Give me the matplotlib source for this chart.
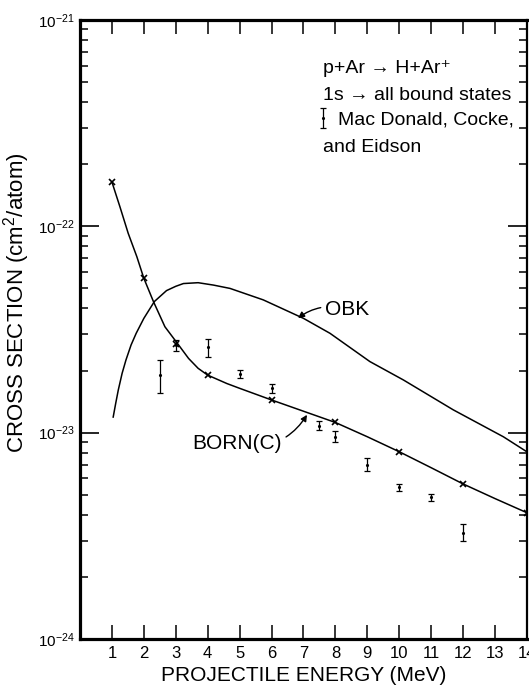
import numpy as np
import matplotlib
matplotlib.use("Agg")
import matplotlib.pyplot as plt
from matplotlib.ticker import LogLocator, NullFormatter

plt.rcParams['font.family'] = ['Liberation Sans', 'DejaVu Sans']
plt.rcParams['mathtext.fontset'] = 'custom'
plt.rcParams['mathtext.rm'] = 'Liberation Sans'
plt.rcParams['mathtext.it'] = 'Liberation Sans:italic'
plt.rcParams['mathtext.bf'] = 'Liberation Sans:bold'

# BORN(C) calculation: marked points and the drawn curve
born_energy = [1, 2, 3, 4, 6, 8, 10, 12, 14]
born_sigma = [1.64e-22, 5.6e-23, 2.69e-23, 1.90e-23, 1.44e-23, 1.12e-23,
              8.08e-24, 5.64e-24, 4.09e-24]

born_curve_energy = [1, 1.25, 1.51, 1.78, 2, 2.3, 2.66, 3.05, 3.4, 3.7, 4,
                     4.6, 5, 6, 7, 8, 9, 10, 11, 12, 13, 14]
born_curve_sigma = [1.64e-22, 1.245e-22, 9.25e-23, 7.13e-23, 5.60e-23,
                    4.32e-23, 3.26e-23, 2.71e-23, 2.29e-23, 2.05e-23,
                    1.90e-23, 1.73e-23, 1.64e-23, 1.44e-23, 1.27e-23,
                    1.12e-23, 9.55e-24, 8.08e-24, 6.76e-24, 5.64e-24,
                    4.79e-24, 4.09e-24]

# OBK calculation
obk_energy = [1.04, 1.12, 1.20, 1.32, 1.44, 1.6, 1.76, 2.0, 2.33, 2.71, 3.0,
              3.24, 3.7, 4.18, 4.70, 5.74, 7.0, 7.83, 9.08, 10.13, 11.69,
              13.26, 14.0]
obk_sigma = [1.19e-23, 1.39e-23, 1.61e-23, 1.94e-23, 2.25e-23, 2.66e-23,
             3.03e-23, 3.58e-23, 4.32e-23, 4.88e-23, 5.12e-23, 5.28e-23,
             5.33e-23, 5.19e-23, 5.00e-23, 4.40e-23, 3.58e-23, 3.03e-23,
             2.21e-23, 1.80e-23, 1.29e-23, 9.55e-24, 8.07e-24]

# Mac Donald, Cocke, and Eidson measurements
exp_energy = [2.5, 3, 4, 5, 6, 7.5, 8, 9, 10, 11, 12]
exp_sigma = [1.90e-23, 2.66e-23, 2.59e-23, 1.92e-23, 1.64e-23, 1.08e-23,
             9.55e-24, 6.97e-24, 5.43e-24, 4.85e-24, 3.27e-24]
exp_low = [1.55e-23, 2.49e-23, 2.32e-23, 1.85e-23, 1.55e-23, 1.03e-23,
           9.03e-24, 6.53e-24, 5.21e-24, 4.67e-24, 2.99e-24]
exp_high = [2.25e-23, 2.81e-23, 2.83e-23, 2.01e-23, 1.73e-23, 1.14e-23,
            1.02e-23, 7.55e-24, 5.61e-24, 5.04e-24, 3.59e-24]

x_ticks = list(range(1, 15))
y_ticks = [1e-24, 1e-23, 1e-22, 1e-21]
y_labels = [r'$10^{-24}$', r'$10^{-23}$', r'$10^{-22}$', r'$10^{-21}$']

fig = plt.figure(figsize=(5.29, 6.89), dpi=100)
ax = fig.add_axes([0.1512, 0.0726, 0.845, 0.8984])

ax.plot(born_curve_energy, born_curve_sigma, color='black', lw=1.1)
ax.plot(born_energy, born_sigma, 'x', color='black', ms=4, mew=1.2)
ax.plot(obk_energy, obk_sigma, color='black', lw=1.1)

err = [np.array(exp_sigma) - np.array(exp_low),
       np.array(exp_high) - np.array(exp_sigma)]
eb = ax.errorbar(exp_energy, exp_sigma, yerr=err, fmt='.', color='black',
                 ms=2.5, elinewidth=0.9, capsize=2.2, capthick=0.9)

ax.set_yscale('log')
ax.set_xlim(0, 14)
ax.set_ylim(1e-24, 1e-21)

ax.set_xticks(x_ticks)
ax.set_yticks(y_ticks, labels=y_labels)
ax.yaxis.set_minor_locator(LogLocator(base=10, subs=range(2, 10)))
ax.yaxis.set_minor_formatter(NullFormatter())

ax.tick_params(axis='x', which='major', direction='in', top=True, length=10,
               width=1.1, labelsize=12, pad=5)
ax.tick_params(axis='y', which='major', direction='in', right=True, length=14,
               width=1.2, labelsize=11, pad=4)
ax.tick_params(axis='y', which='minor', direction='in', right=True, length=6,
               width=1.1)
for side in ['left', 'bottom', 'top']:
    ax.spines[side].set_linewidth(2.3)
ax.spines['right'].set_linewidth(1.6)

ax.set_xlabel('PROJECTILE ENERGY (MeV)', fontsize=15, labelpad=4)
ax.set_ylabel(r'CROSS SECTION (cm$^2$/atom)', fontsize=16)
ax.yaxis.set_label_coords(-0.108, 0.543)

# header text
ax.text(0.544, 0.914, 'p+Ar → H+Ar⁺', transform=ax.transAxes,
        fontsize=14, va='baseline')
ax.text(0.544, 0.870, '1s → all bound states', transform=ax.transAxes,
        fontsize=14, va='baseline')
ax.text(0.544, 0.787, 'and Eidson', transform=ax.transAxes,
        fontsize=14, va='baseline')
leg = ax.legend([eb], ['Mac Donald, Cocke,'], loc='upper left',
                bbox_to_anchor=(0.53, 0.853), frameon=False, fontsize=14,
                handlelength=0.6, handletextpad=0.5, borderpad=0,
                borderaxespad=0)

# curve labels
ax.annotate('OBK', xy=(6.83, 3.59e-23), xytext=(7.67, 3.97e-23),
            fontsize=15, ha='left', va='center',
            arrowprops=dict(arrowstyle='-|>', color='black', lw=1,
                            mutation_scale=9, shrinkA=1, shrinkB=0,
                            connectionstyle='arc3,rad=0.25'))
ax.annotate('BORN(C)', xy=(7.11, 1.22e-23), xytext=(6.33, 8.81e-24),
            fontsize=15, ha='right', va='center',
            arrowprops=dict(arrowstyle='-|>', color='black', lw=1,
                            mutation_scale=9, shrinkA=1, shrinkB=0,
                            connectionstyle='arc3,rad=0.35'))

fig.savefig('out.png', dpi=100)
